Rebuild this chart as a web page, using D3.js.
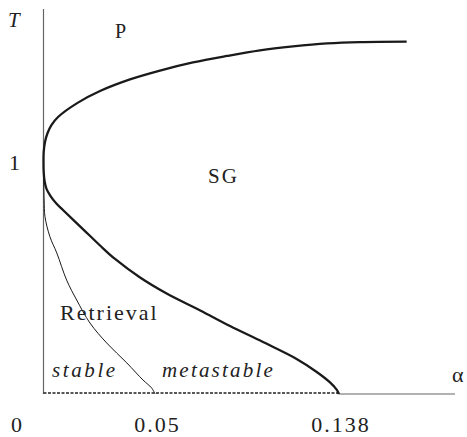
<!DOCTYPE html>
<html><head><meta charset="utf-8">
<script src="https://cdn.jsdelivr.net/npm/d3@7"></script>
<style>
html,body{margin:0;padding:0;background:#fff;}
svg text{font-family:"Liberation Serif","Times New Roman",serif;fill:#222;}
</style></head>
<body><svg id="c" width="467" height="437"></svg>
<script>
// P / SG boundary (upper branch, from T=1 outward)
const pAlpha = [0, 0.0001, 0.0007, 0.0019, 0.0037, 0.0068, 0.0161, 0.0264, 0.0404, 0.0544, 0.0698, 0.0857, 0.1011, 0.1165, 0.1324, 0.1478, 0.1696];
const pT     = [1, 1.043, 1.086, 1.125, 1.159, 1.194, 1.256, 1.306, 1.356, 1.394, 1.429, 1.457, 1.481, 1.498, 1.511, 1.517, 1.519];
// SG / Retrieval boundary (lower branch, from T=1 down to alpha_c = 0.138)
const rAlpha = [0, 0.0001, 0.0005, 0.0014, 0.0033, 0.0058, 0.0091, 0.0184, 0.0264, 0.0334, 0.0451, 0.0575, 0.0732, 0.0871, 0.1025, 0.1182, 0.1276, 0.1338, 0.1369, 0.138];
const rT     = [1, 0.957, 0.918, 0.884, 0.853, 0.823, 0.793, 0.711, 0.640, 0.582, 0.502, 0.433, 0.360, 0.293, 0.224, 0.151, 0.095, 0.050, 0.019, 0];
// stable / metastable boundary (thin)
const sAlpha = [0, 0.0003, 0.0007, 0.0030, 0.0062, 0.0108, 0.0155, 0.0217, 0.0295, 0.0389, 0.0465, 0.0505, 0.0521];
const sT     = [0.966, 0.836, 0.764, 0.678, 0.608, 0.491, 0.405, 0.306, 0.220, 0.134, 0.060, 0.026, 0];
const xTicks = [0, 0.05, 0.138];
const yTicks = [1];
const xTickLabels = ["0", "0.05", "0.138"];
const yTickLabels = ["1"];

const svg = d3.select("#c");
const x = d3.scaleLinear().domain([0, 0.138]).range([43.5, 339]);
const y = d3.scaleLinear().domain([0, 1]).range([394, 162]);

// axes
svg.append("line").attr("x1", x(0)).attr("x2", x(0)).attr("y1", 9).attr("y2", y(0))
  .attr("stroke", "#666").attr("stroke-width", 1.2);
svg.append("line").attr("x1", x(0.138)).attr("x2", 455).attr("y1", y(0)).attr("y2", y(0))
  .attr("stroke", "#666").attr("stroke-width", 1.2);
svg.append("line").attr("x1", x(0)).attr("x2", x(0.138)).attr("y1", y(0) - 1).attr("y2", y(0) - 1)
  .attr("stroke", "#222").attr("stroke-width", 1.6).attr("stroke-dasharray", "3,1.5");

const line = d3.line().x(d => x(d[0])).y(d => y(d[1])).curve(d3.curveCatmullRom.alpha(0.5));

// thick boundary: upper branch reversed + lower branch
const upper = pAlpha.map((a, i) => [a, pT[i]]).reverse();
const lower = rAlpha.map((a, i) => [a, rT[i]]).slice(1);
svg.append("path").attr("d", line(upper.concat(lower)))
  .attr("fill", "none").attr("stroke", "#1a1a1a").attr("stroke-width", 2.3);

const thin = sAlpha.map((a, i) => [a, sT[i]]);
svg.append("path").attr("d", line(thin))
  .attr("fill", "none").attr("stroke", "#1a1a1a").attr("stroke-width", 1);

// tick labels
const xLab = svg.append("g").attr("font-size", 22).attr("letter-spacing", 2);
xTicks.forEach((v, i) => {
  const t = xLab.append("text").attr("y", 432).text(xTickLabels[i]);
  if (v === 0) t.attr("x", x(v) - 26).attr("text-anchor", "middle");
  else t.attr("x", x(v) + (i === 1 ? 7 : 2)).attr("text-anchor", "middle");
});
yTicks.forEach((v, i) => {
  svg.append("text").attr("x", 9).attr("y", y(v) + 8).attr("font-size", 22).text(yTickLabels[i]);
});

// axis titles
svg.append("text").attr("x", 8).attr("y", 27).attr("font-size", 21).attr("font-style", "italic").text("T");
svg.append("text").attr("x", 452).attr("y", 382).attr("font-size", 22).text("α");

// region labels
svg.append("text").attr("x", 115).attr("y", 38).attr("font-size", 20).text("P");
svg.append("text").attr("x", 208).attr("y", 183).attr("font-size", 21).attr("letter-spacing", 2).text("SG");
svg.append("text").attr("x", 60).attr("y", 320).attr("font-size", 22).attr("letter-spacing", 2).text("Retrieval");
svg.append("text").attr("x", 52).attr("y", 377).attr("font-size", 21).attr("font-style", "italic").attr("letter-spacing", 2.6).text("stable");
svg.append("text").attr("x", 162).attr("y", 377).attr("font-size", 21).attr("font-style", "italic").attr("letter-spacing", 2.2).text("metastable");
</script></body></html>
